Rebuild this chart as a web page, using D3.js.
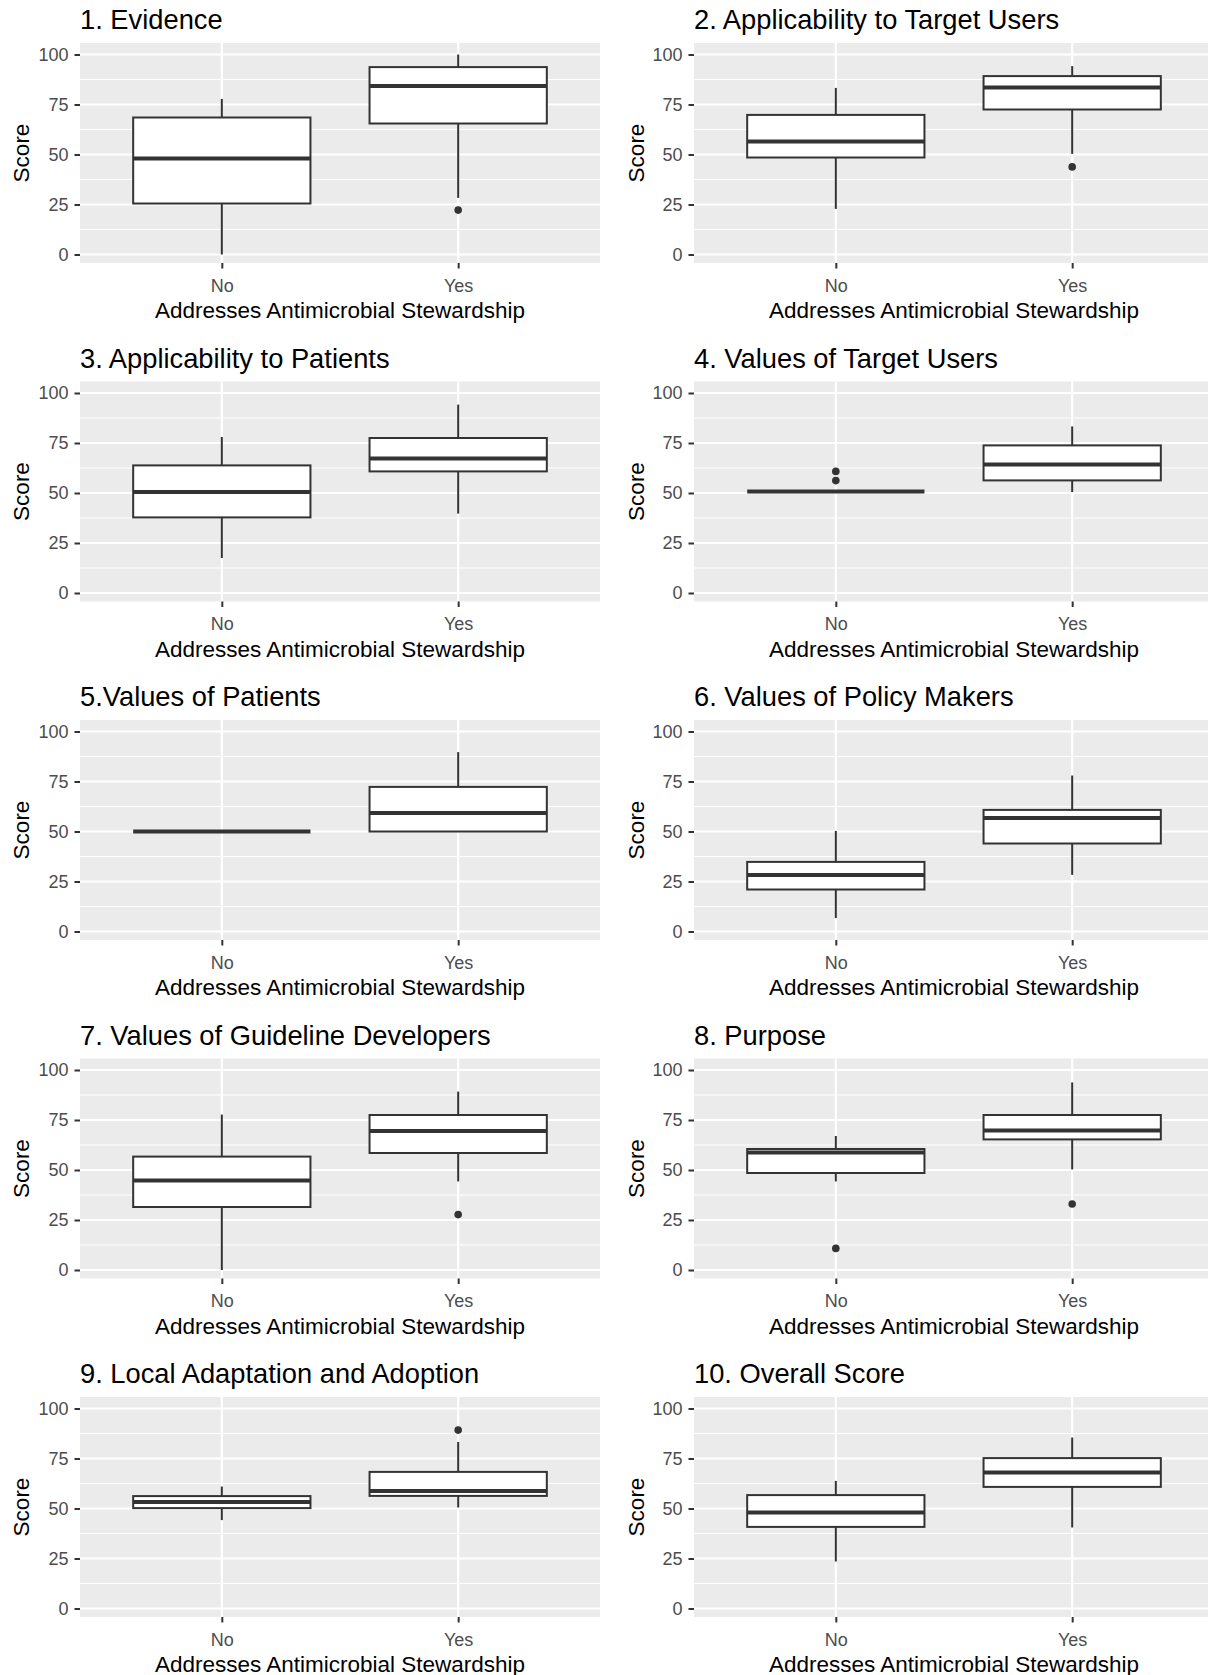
<!DOCTYPE html>
<html>
<head>
<meta charset="utf-8">
<script src="https://cdn.jsdelivr.net/npm/d3@7"></script>
<style>
body { margin: 0; background: #fff; }
svg { display: block; font-family: 'Liberation Sans', Arial, sans-serif; }
</style>
</head>
<body>
<svg id="chart" width="1208" height="1675"></svg>
<script>
const titles = [
    '1. Evidence',
    '2. Applicability to Target Users',
    '3. Applicability to Patients',
    '4. Values of Target Users',
    '5.Values of Patients',
    '6. Values of Policy Makers',
    '7. Values of Guideline Developers',
    '8. Purpose',
    '9. Local Adaptation and Adoption',
    '10. Overall Score',
];
const groups = ['No', 'Yes'];
const yTicks = [0, 25, 50, 75, 100];
const yMinor = [12.5, 37.5, 62.5, 87.5];

// [lower whisker, Q1, median, Q3, upper whisker]
const noBoxes = [
    [0, 25.5, 48, 68.5, 77.8],
    [22.8, 48.5, 56.5, 69.8, 83.3],
    [17.5, 37.8, 50.5, 63.8, 78],
    [50.8, 50.8, 50.8, 50.8, 50.8],
    [50, 50, 50, 50, 50],
    [6.7, 21, 28.3, 34.8, 50.3],
    [0, 31.5, 44.8, 56.7, 77.7],
    [44.3, 48.5, 58.8, 60.5, 67],
    [44.2, 50.2, 53.3, 56.2, 61],
    [23.5, 40.8, 48, 56.7, 63.8],
];
const yesBoxes = [
    [28.3, 65.5, 84.2, 93.7, 100],
    [50.3, 72.5, 83.5, 89.2, 94.2],
    [39.7, 60.8, 67.3, 77.5, 94.2],
    [50.5, 56.3, 64.3, 73.8, 83.3],
    [50, 50, 59.2, 72.3, 89.7],
    [28.3, 44, 56.7, 60.8, 78],
    [44.3, 58.5, 69.5, 77.5, 89.2],
    [50.3, 65.3, 69.7, 77.5, 93.8],
    [50.5, 56.3, 58.7, 68.3, 83.3],
    [40.5, 60.8, 68, 75.2, 85.5],
];
const noOutliers = [[], [], [], [60.8, 56.2], [], [], [], [10.8], [], []];
const yesOutliers = [[22.2], [43.8], [], [], [], [], [27.7], [33], [89.2], []];

const colLeft = [80, 694];
const scoreOffset = [51, 50];
const panelW = 520;
const panelH = 220;
const rowPitch = 338.5;
const firstTop = 43;
const ink = '#333333';
const font = "'Liberation Sans', Arial, sans-serif";

const svg = d3.select('#chart');

titles.forEach(function (title, i) {
    const col = i % 2;
    const row = Math.floor(i / 2);
    const g = svg.append('g')
        .attr('transform', 'translate(' + colLeft[col] + ',' + (firstTop + row * rowPitch) + ')');

    const x = d3.scalePoint().domain(groups).range([0, panelW]).padding(0.6);
    const y = d3.scaleLinear().domain([0, 100]).range([panelH - 8.5, 11.5]);
    const boxW = x.step() * 0.75;

    g.append('rect').attr('width', panelW).attr('height', panelH).attr('fill', '#EBEBEB');

    g.selectAll('.minor').data(yMinor).enter().append('line')
        .attr('x1', 0).attr('x2', panelW)
        .attr('y1', d => y(d)).attr('y2', d => y(d))
        .attr('stroke', '#fff').attr('stroke-width', 1.07);
    g.selectAll('.major').data(yTicks).enter().append('line')
        .attr('x1', 0).attr('x2', panelW)
        .attr('y1', d => y(d)).attr('y2', d => y(d))
        .attr('stroke', '#fff').attr('stroke-width', 2.13);
    g.selectAll('.vmajor').data(groups).enter().append('line')
        .attr('x1', d => x(d)).attr('x2', d => x(d))
        .attr('y1', 0).attr('y2', panelH)
        .attr('stroke', '#fff').attr('stroke-width', 2.13);

    const boxes = [
        { grp: 'No', s: noBoxes[i], out: noOutliers[i] },
        { grp: 'Yes', s: yesBoxes[i], out: yesOutliers[i] },
    ];

    boxes.forEach(function (b) {
        const cx = x(b.grp);
        const s = b.s;
        g.append('line').attr('x1', cx).attr('x2', cx).attr('y1', y(s[0])).attr('y2', y(s[1]))
            .attr('stroke', ink).attr('stroke-width', 2);
        g.append('line').attr('x1', cx).attr('x2', cx).attr('y1', y(s[3])).attr('y2', y(s[4]))
            .attr('stroke', ink).attr('stroke-width', 2);
        g.append('rect')
            .attr('x', cx - boxW / 2).attr('y', y(s[3]))
            .attr('width', boxW).attr('height', y(s[1]) - y(s[3]))
            .attr('fill', '#fff').attr('stroke', ink).attr('stroke-width', 2);
        g.append('line')
            .attr('x1', cx - boxW / 2).attr('x2', cx + boxW / 2)
            .attr('y1', y(s[2])).attr('y2', y(s[2]))
            .attr('stroke', ink).attr('stroke-width', 4);
        g.selectAll(null).data(b.out).enter().append('circle')
            .attr('cx', cx).attr('cy', d => y(d)).attr('r', 3.8).attr('fill', ink);
    });

    // axes
    const yAxis = g.append('g').call(d3.axisLeft(y).tickValues(yTicks).tickSize(5.5).tickPadding(6));
    const xAxis = g.append('g').attr('transform', 'translate(0,' + panelH + ')')
        .call(d3.axisBottom(x).tickSize(5.5));
    [yAxis, xAxis].forEach(function (a) {
        a.select('.domain').remove();
        a.selectAll('.tick line').attr('stroke', ink).attr('stroke-width', 2);
        a.selectAll('.tick text').attr('fill', '#4D4D4D').style('font-size', '18px')
            .style('font-family', font);
    });
    xAxis.selectAll('.tick text').attr('y', 28.5).attr('dy', 0);

    g.append('text').attr('x', 0).attr('y', -14)
        .style('font-size', '27.3px').attr('fill', '#000').text(title);

    g.append('text')
        .attr('transform', 'translate(' + (-scoreOffset[col]) + ',' + panelH / 2 + ') rotate(-90)')
        .attr('text-anchor', 'middle').style('font-size', '22.5px').attr('fill', '#000')
        .text('Score');

    g.append('text').attr('x', panelW / 2).attr('y', panelH + 55)
        .attr('text-anchor', 'middle').style('font-size', '22.5px').attr('fill', '#000')
        .text('Addresses Antimicrobial Stewardship');
});
</script>
</body>
</html>
